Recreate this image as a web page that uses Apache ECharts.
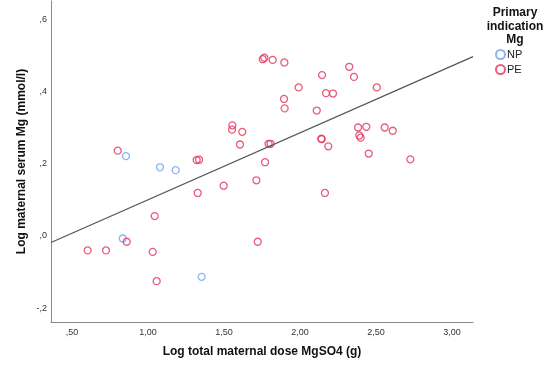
<!DOCTYPE html>
<html>
<head>
<meta charset="utf-8">
<script src="https://cdn.jsdelivr.net/npm/echarts@6/dist/echarts.min.js"></script>
<style>html,body{margin:0;padding:0;background:#fff;}#c{width:544px;height:369px;}</style>
</head>
<body>
<div id="c"></div>
<script>
// Data
var npX = [0.855, 1.079, 1.182, 0.834, 1.353];
var npY = [0.221, 0.190, 0.182, -0.007, -0.113];

var peX = [0.801, 1.320, 1.336, 1.555, 1.553, 1.620, 1.605, 1.755, 1.765, 1.820,
           1.793, 1.806, 1.770, 1.897, 2.324, 2.145, 2.355, 1.991, 2.505, 2.171,
           2.217, 1.895, 1.899, 2.110, 2.382, 2.436, 2.557, 2.610, 2.390, 2.399,
           2.140, 2.143, 2.186, 2.452, 2.726, 1.498, 1.713, 1.327, 2.164, 1.044,
           0.860, 0.603, 0.724, 1.031, 1.722, 1.057];
var peY = [0.236, 0.210, 0.211, 0.306, 0.294, 0.288, 0.253, 0.489, 0.493, 0.487,
           0.255, 0.255, 0.204, 0.480, 0.468, 0.445, 0.440, 0.411, 0.411, 0.395,
           0.394, 0.379, 0.353, 0.347, 0.300, 0.302, 0.300, 0.291, 0.278, 0.272,
           0.269, 0.268, 0.248, 0.228, 0.212, 0.139, 0.154, 0.119, 0.119, 0.055,
           -0.016, -0.040, -0.040, -0.044, -0.016, -0.125];

var fitX = [0.362, 3.138];
var fitY = [-0.018, 0.496];

var xTicks = [0.5, 1.0, 1.5, 2.0, 2.5, 3.0];
var yTicks = [-0.2, 0.0, 0.2, 0.4, 0.6];

var legendTitle = ['Primary', 'indication', 'Mg'];
var seriesNames = ['NP', 'PE'];

function zip(a, b) { return a.map(function (v, i) { return [v, b[i]]; }); }
function spssFmt(v, d) {
  var s = Math.abs(v).toFixed(d).replace('.', ',');
  if (s.charAt(0) === '0') s = s.substring(1);
  return (v < -1e-9 ? '-' : '') + s;
}

var FONT = 'Liberation Sans, Arial, sans-serif';
var chart = echarts.init(document.getElementById('c'), null, {renderer: 'canvas'});
chart.setOption({
  animation: false,
  backgroundColor: '#fff',
  textStyle: {fontFamily: FONT},
  grid: {left: 51, right: 71, top: 1, bottom: 47, containLabel: false},
  xAxis: {
    type: 'value', min: 0.362, max: 3.138,
    name: 'Log total maternal dose MgSO4 (g)',
    nameLocation: 'middle', nameGap: 24,
    nameTextStyle: {fontFamily: FONT, fontSize: 12, fontWeight: 'bold', color: '#111'},
    axisLine: {show: true, onZero: false, lineStyle: {color: '#888', width: 1}},
    axisTick: {show: false},
    splitLine: {show: false},
    axisLabel: {customValues: xTicks, fontFamily: FONT, fontSize: 9, color: '#333', margin: 6,
      formatter: function (v) { return spssFmt(v, 2); }}
  },
  yAxis: {
    type: 'value', min: -0.238, max: 0.65,
    name: 'Log maternal serum Mg (mmol/l)',
    nameLocation: 'middle', nameGap: 23, nameMoveOverlap: false,
    nameTextStyle: {fontFamily: FONT, fontSize: 12, fontWeight: 'bold', color: '#111'},
    axisLine: {show: true, onZero: false, lineStyle: {color: '#888', width: 1}},
    axisTick: {show: false},
    splitLine: {show: false},
    axisLabel: {customValues: yTicks, fontFamily: FONT, fontSize: 9, color: '#333', margin: 4,
      formatter: function (v) { return spssFmt(v, 1); }}
  },
  legend: {
    orient: 'vertical', left: 495, top: 49, padding: 0,
    itemWidth: 9, itemHeight: 9, itemGap: 4,
    icon: 'circle',
    textStyle: {fontFamily: FONT, fontSize: 11, color: '#222', padding: [0, 0, 0, -3]},
    data: seriesNames
  },
  graphic: [{
    type: 'text', x: 515, y: 6,
    style: {text: legendTitle.join('\n'), fontFamily: FONT, fontSize: 12, fontWeight: 'bold',
      fill: '#111', align: 'center', verticalAlign: 'top', lineHeight: 13.5}
  }],
  series: [
    {
      name: seriesNames[0], type: 'scatter', symbol: 'circle', symbolSize: 7,
      data: zip(npX, npY),
      itemStyle: {color: 'rgba(255,255,255,0)', borderColor: '#6fa3ef', borderWidth: 1.3}
    },
    {
      name: seriesNames[1], type: 'scatter', symbol: 'circle', symbolSize: 7,
      data: zip(peX, peY),
      itemStyle: {color: 'rgba(255,255,255,0)', borderColor: '#e2355c', borderWidth: 1.3}
    },
    {
      name: 'fit', type: 'line', data: zip(fitX, fitY), symbol: 'none',
      lineStyle: {color: '#555', width: 1.2}, silent: true
    }
  ]
});
</script>
</body>
</html>
